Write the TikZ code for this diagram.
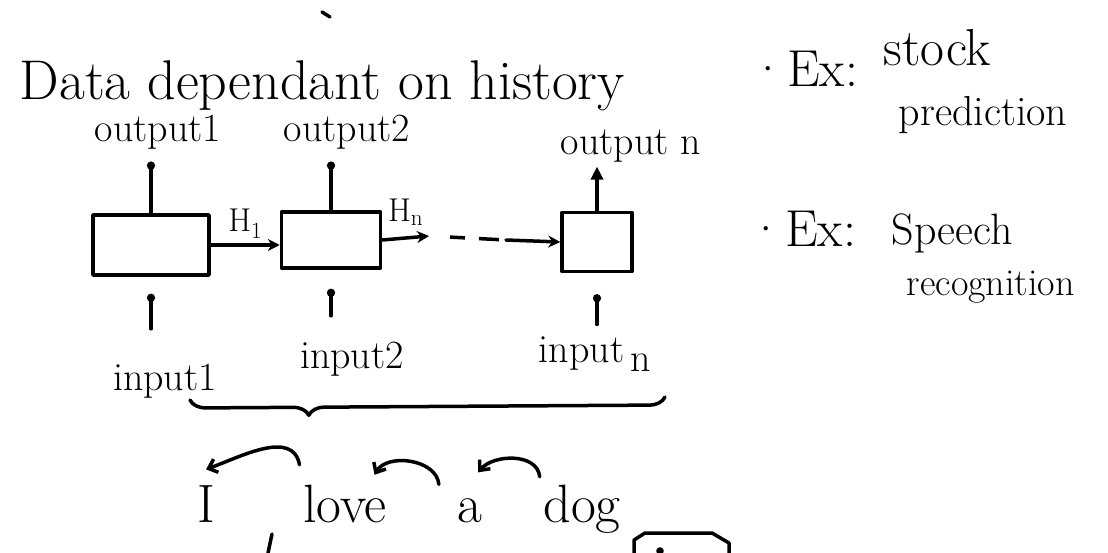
\documentclass[tikz,border=0pt]{standalone}
\usepackage{fontspec}
\usepackage{tikz}
\usetikzlibrary{arrows.meta}
\usetikzlibrary{decorations.pathreplacing}

\begin{document}
\begin{tikzpicture}[x=1pt,y=1pt,line width=3.5pt,line cap=round,line join=round,
    cell/.style={draw,rectangle,inner sep=0pt},
    lbl/.style={font=\fontsize{40}{44}\selectfont,inner sep=2pt},
    hlab/.style={font=\fontsize{33}{36}\selectfont,inner sep=1pt},
    word/.style={font=\fontsize{54}{60}\selectfont,inner sep=2pt,anchor=base},
    stem/.style={-{Circle[length=8pt]}},
    harrow/.style={-{Stealth[length=12pt,width=12pt]}},
    curl/.style={-{Straight Barb[length=8pt,width=14pt]}}]
            \useasboundingbox (0,0) rectangle (1108,-553);

            % title and the stray tick above it
            \draw (322,-12) -- (330,-17);
            \node[anchor=base west,inner sep=0pt,font=\fontsize{56}{60}\selectfont] (title) at (18,-100) {Data dependant on history};

            % the three cells
            \node[cell,minimum width=116pt,minimum height=60pt] (b1) at (151,-245) {};
            \node[cell,minimum width=99pt,minimum height=56pt] (b2) at (331,-240) {};
            \node[cell,minimum width=70pt,minimum height=59pt] (b3) at (597,-242) {};

            \node[lbl,anchor=base] (out1) at (158,-142) {output1};
            \node[lbl,anchor=base] (out2) at (347,-142) {output2};
            \node[lbl,anchor=base] (outn) at (631,-155) {output n};

            \node[lbl,anchor=base] (in1) at (165,-390) {input1};
            \node[lbl,anchor=base] (in2) at (352,-368) {input2};
            \node[lbl,anchor=base] (inn) at (595,-362) {input\,\raisebox{-9pt}{n}};

            \draw[stem,shorten >=8pt] (b1.north) -- (b1.north |- out1.south);
            \draw[stem,shorten >=8pt] (b2.north) -- (b2.north |- out2.south);
            \draw[-{Triangle[length=13pt,width=12pt]}] (b3.north) -- (b3.north |- outn.south);

            \draw[stem,shorten <=31pt,shorten >=17pt] (in1.north -| b1.south) -- (b1.south);
            \draw[stem,shorten <=22pt,shorten >=19pt] (in2.north -| b2.south) -- (b2.south);
            \draw[stem,shorten <=8pt,shorten >=21pt] (inn.north -| b3.south) -- (b3.south);

            % hidden state passed along
            \coordinate (dA) at (429,-236);
            \coordinate (dB) at (506,-240);
            \draw[harrow] (b1.east) -- (b1.east -| b2.west) node[midway,above=4pt,hlab] (h1) {H\textsubscript{1}};
            \draw[harrow] (b2.east) -- (dA) node[midway,above=10pt,hlab] (hn) {H\textsubscript{n}};
            \draw[line cap=butt,dash pattern=on 0pt off 21pt on 15pt off 14pt on 20pt off 7pt] (dA) -- (dB);
            \draw[harrow] (dB) -- (b3.west);

            % brace under the inputs
            \coordinate (braceL) at (190,-400);
            \coordinate (braceR) at (665,-397);
            \draw[decorate,decoration={brace,mirror,amplitude=16pt,aspect=0.25}] (braceL) -- (braceR);

            % example sentence
            \node[word] (wI) at (206,-522) {I};
            \node[word] (wlove) at (345,-522) {love};
            \node[word] (wa) at (470,-522) {a};
            \node[word] (wdog) at (582,-522) {dog};

            \draw[curl] ([yshift=16pt]wlove.north west) to[out=100,in=20] ([yshift=12pt]wI.north);
            \draw[curl] ([xshift=-15pt,yshift=10pt]wa.north west) to[out=95,in=60] ([xshift=-16pt,yshift=6pt]wlove.north east);
            \draw[curl] ([yshift=4pt]wdog.north west) to[out=95,in=50] ([xshift=-8pt,yshift=22pt]wa.north east);

            % strokes cut off at the bottom edge
            \draw (268,-553) -- (272,-534);
            \draw (634,-553) -- (634,-540) -- (645,-533) -- (712,-533) -- (729,-543) -- (729,-553);
            \draw[fill=black] (660,-551) circle (2);

            % examples on the right
            \node[anchor=base west,inner sep=0pt,font=\fontsize{52}{56}\selectfont] (ex1) at (748,-87) {·Ex:};
            \node[anchor=base west,inner sep=0pt,font=\fontsize{52}{56}\selectfont] (stock) at (882,-66) {stock};
            \node[anchor=base west,inner sep=0pt,font=\fontsize{42}{46}\selectfont] (pred) at (897,-126) {prediction};
            \node[anchor=base west,inner sep=0pt,font=\fontsize{52}{56}\selectfont] (ex2) at (746,-247) {·Ex:};
            \node[anchor=base west,inner sep=0pt,font=\fontsize{44}{48}\selectfont] (speech) at (890,-245) {Speech};
            \node[anchor=base west,inner sep=0pt,font=\fontsize{38}{42}\selectfont] (recog) at (905,-296) {recognition};
\end{tikzpicture}
\end{document}
